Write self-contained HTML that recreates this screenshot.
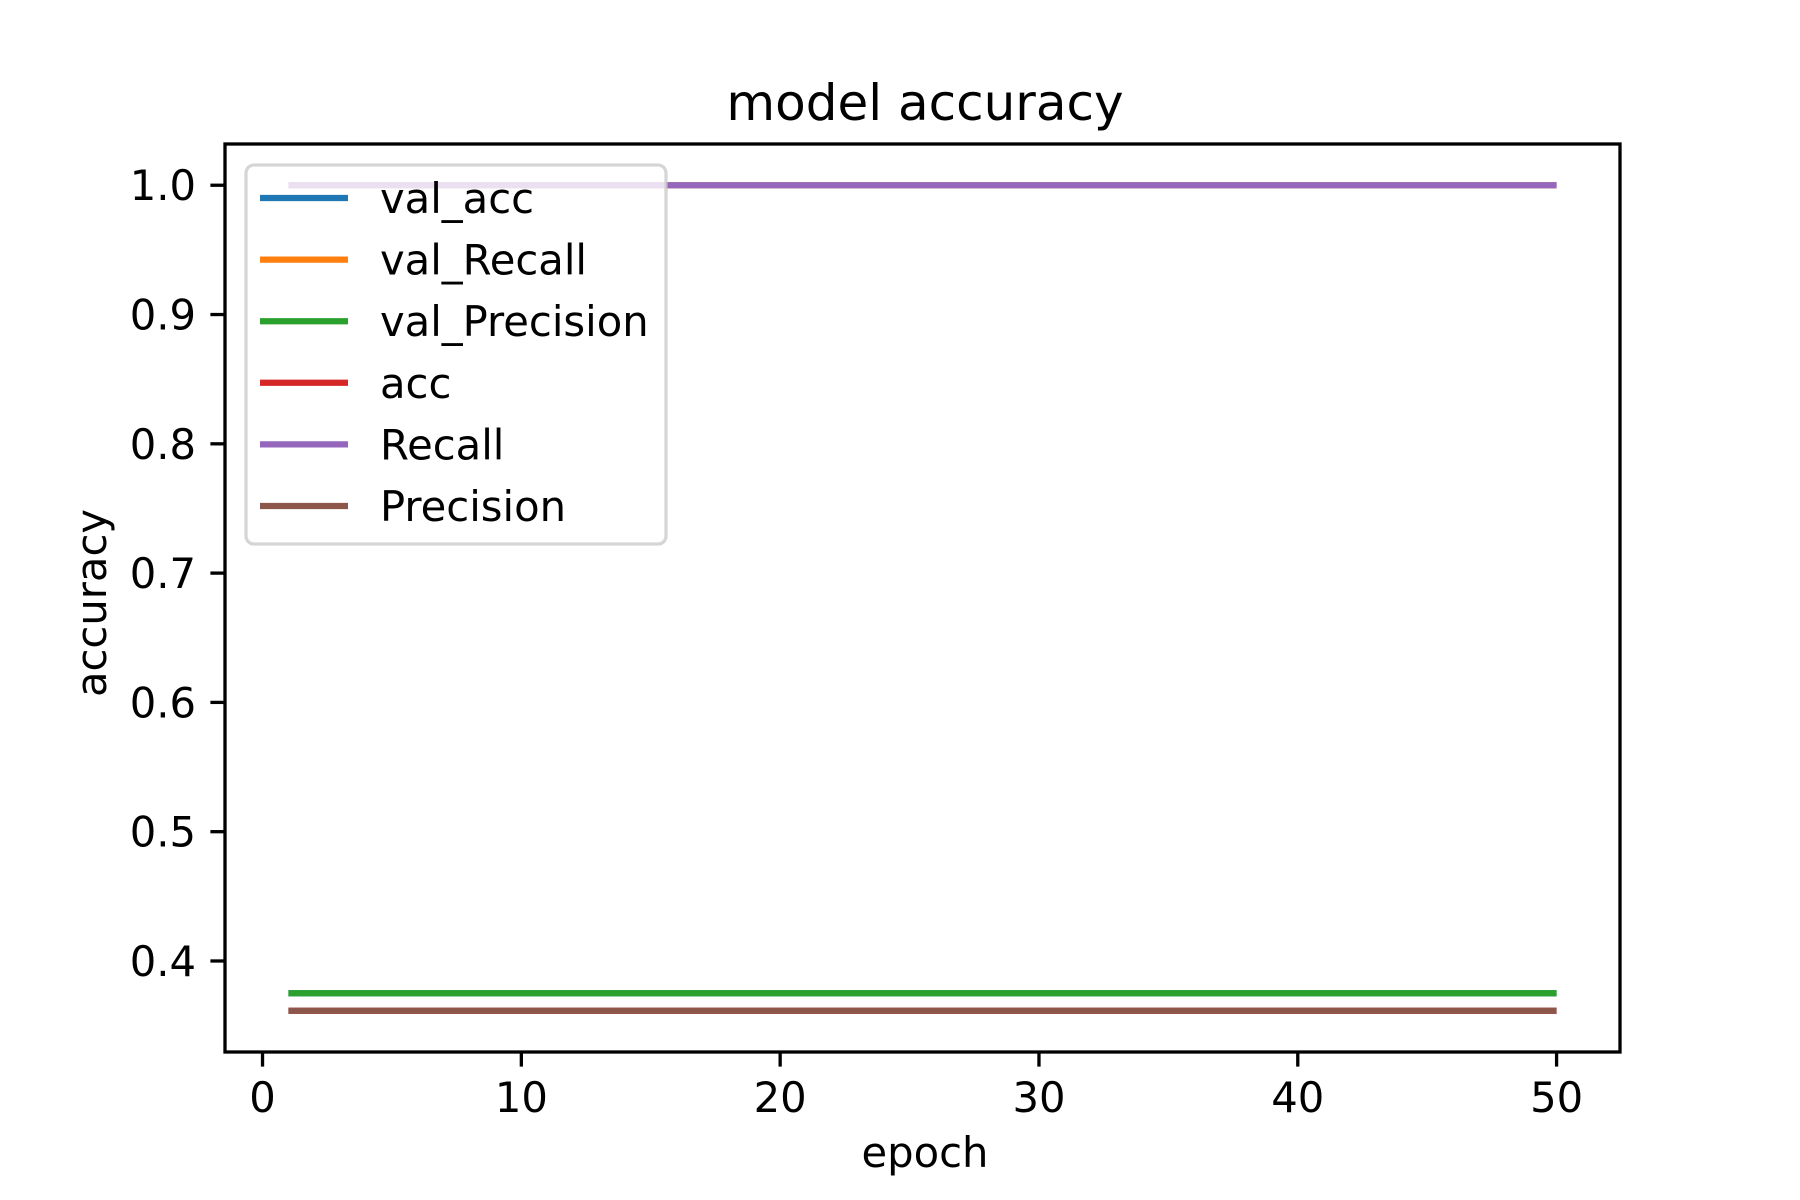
<!DOCTYPE html>
<html><head><meta charset="utf-8"><style>
html,body{margin:0;padding:0;background:#fff;}
svg{display:block;font-family:"DejaVu Sans","Liberation Sans",sans-serif;}
</style></head><body>
<svg id="chart" width="1800" height="1200" viewBox="0 0 1800 1200">
<rect width="1800" height="1200" fill="#fff"/>
<text x="925" y="120" font-size="50" text-anchor="middle">model accuracy</text>
<g id="plot"></g>
<g id="axes"></g>
<g id="legend"></g>
<text x="925" y="1167" font-size="41.7" text-anchor="middle">epoch</text>
<text transform="translate(106,603) rotate(-90)" font-size="41.7" text-anchor="middle">accuracy</text>
</svg>
<script>
const epochs = Array.from({length:50},(_,i)=>i+1);
const seriesNames = ["val_acc","val_Recall","val_Precision","acc","Recall","Precision"];
const seriesColors = ["#1f77b4","#ff7f0e","#2ca02c","#d62728","#9467bd","#8c564b"];
const valAcc = Array(50).fill(0.375);
const valRecall = Array(50).fill(1.0);
const valPrecision = Array(50).fill(0.375);
const acc = Array(50).fill(0.3615);
const recall = Array(50).fill(1.0);
const precision = Array(50).fill(0.3615);
const xTicks = [0,10,20,30,40,50];
const yTicks = [0.4,0.5,0.6,0.7,0.8,0.9,1.0];
const yTickLabels = ["0.4","0.5","0.6","0.7","0.8","0.9","1.0"];

const NS="http://www.w3.org/2000/svg";
const L=225,R=1620,T=144,B=1052;
const XMIN=-1.45,XMAX=52.45,YMIN=0.3296,YMAX=1.0319;
function xs(v){return L+(v-XMIN)/(XMAX-XMIN)*(R-L);}
function ys(v){return B-(v-YMIN)/(YMAX-YMIN)*(B-T);}
function mk(tag,attrs,parent){const e=document.createElementNS(NS,tag);for(const k in attrs)e.setAttribute(k,attrs[k]);parent.appendChild(e);return e;}
const plot=document.getElementById('plot'),axes=document.getElementById('axes'),leg=document.getElementById('legend');
const all=[valAcc,valRecall,valPrecision,acc,recall,precision];
all.forEach((d,i)=>{
  const p=mk('polyline',{points:d.map((v,j)=>xs(epochs[j])+','+ys(v)).join(' '),fill:'none',stroke:seriesColors[i],'stroke-width':6.25},plot);
  
  
});
const frame=mk('rect',{x:L,y:T,width:R-L,height:B-T,fill:'none',stroke:'#000','stroke-width':3.3},axes);


xTicks.forEach(t=>{
  const x=xs(t);
  const tk=mk('line',{x1:x,x2:x,y1:B,y2:B+14.6,stroke:'#000','stroke-width':3.3},axes);
  
  
  const tx=mk('text',{x:x,y:B+60,'font-size':41.7,'text-anchor':'middle'},axes);
  tx.textContent=String(t);
  
  
});
yTicks.forEach((t,i)=>{
  const y=ys(t);
  const tk=mk('line',{x1:L-14.6,x2:L,y1:y,y2:y,stroke:'#000','stroke-width':3.3},axes);
  
  
  const tx=mk('text',{x:196,y:y+15,'font-size':41.7,'text-anchor':'end'},axes);
  tx.textContent=yTickLabels[i];
  
  
});
const box=mk('rect',{x:246,y:165,width:420,height:379,rx:8,fill:'#fff','fill-opacity':0.8,stroke:'#ccc','stroke-opacity':0.8,'stroke-width':3.3},leg);


seriesNames.forEach((n,i)=>{
  const y=198+i*61.6;
  const g=mk('g',{},leg);
  
  
  mk('line',{x1:260,x2:348,y1:y,y2:y,stroke:seriesColors[i],'stroke-width':6.25},g);
  const tx=mk('text',{x:380,y:y+15,'font-size':41.7},g);
  tx.textContent=n;
});
</script>
</body></html>
